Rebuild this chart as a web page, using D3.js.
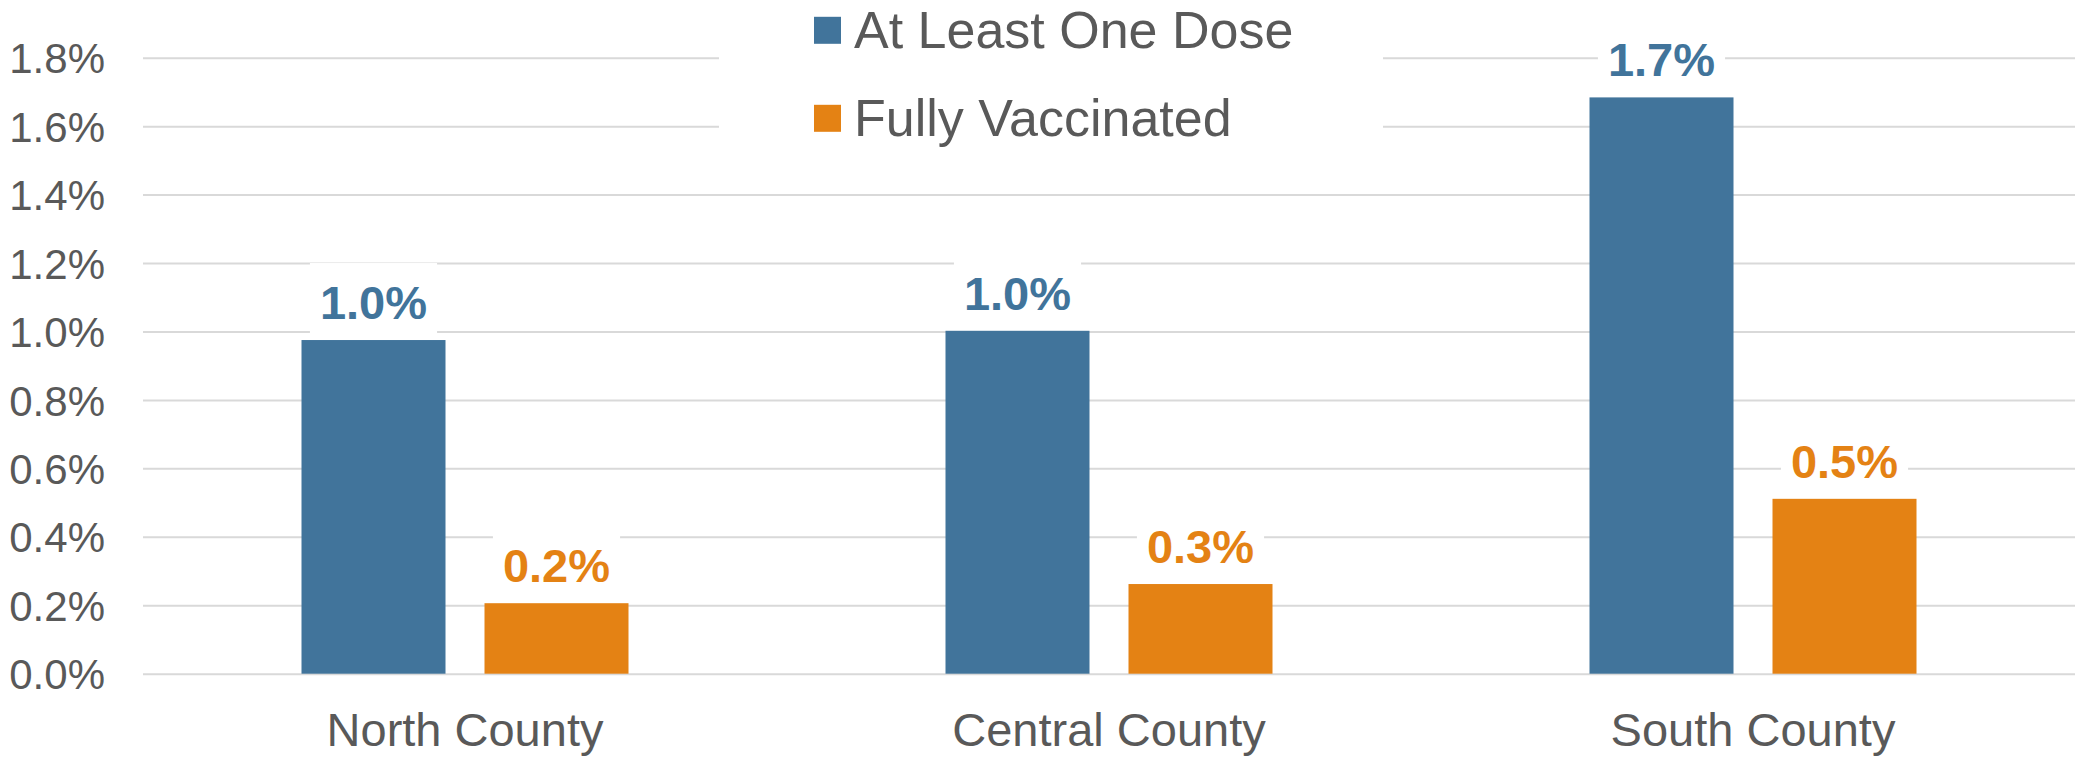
<!DOCTYPE html>
<html>
<head>
<meta charset="utf-8">
<script src="https://cdn.jsdelivr.net/npm/d3@7"></script>
<style>
  html, body { margin: 0; padding: 0; background: #fff; }
  svg { display: block; font-family: "Liberation Sans", Arial, sans-serif; }
</style>
</head>
<body>
<svg id="chart" width="2079" height="759"></svg>
<script>
// ---- data ----
const categories = ["North County", "Central County", "South County"];
const seriesNames = ["At Least One Dose", "Fully Vaccinated"];
const atLeastOneDose = [0.975, 1.002, 1.684];   // percent
const fullyVaccinated = [0.206, 0.262, 0.511];  // percent
const yTicks = [0, 0.2, 0.4, 0.6, 0.8, 1.0, 1.2, 1.4, 1.6, 1.8];
const seriesColors = ["#41749B", "#E48214"];

// ---- layout ----
const W = 2079, H = 759;
const plotLeft = 143, plotRight = 2075, plotTop = 57.7, plotBottom = 673.7;
const textColor = "#595959";
const gridColor = "#D9D9D9";

const svg = d3.select("#chart");

const y = d3.scaleLinear().domain([0, 1.8]).range([plotBottom, plotTop]);
const x0 = d3.scaleBand().domain(categories).range([plotLeft, plotRight]).padding(0);
const x1 = d3.scaleBand().domain(seriesNames)
  .range([158.5, x0.bandwidth() - 158.5]).paddingInner(0.2131).paddingOuter(0);

const seriesValues = [atLeastOneDose, fullyVaccinated];
const rows = [];
categories.forEach((c, i) => {
  seriesNames.forEach((s, j) => {
    rows.push({ cat: c, series: s, value: seriesValues[j][i], color: seriesColors[j] });
  });
});

// gridlines
const grid = svg.append("g")
  .attr("transform", `translate(${plotLeft},0)`)
  .call(d3.axisLeft(y).tickValues(yTicks).tickSize(-(plotRight - plotLeft)).tickFormat(""));
grid.select(".domain").remove();
grid.selectAll("line").attr("stroke", gridColor).attr("stroke-width", 2);

// y axis labels
const yAxis = svg.append("g")
  .attr("transform", `translate(105,0)`)
  .call(d3.axisLeft(y).tickValues(yTicks).tickSize(0).tickPadding(0)
    .tickFormat(d => d3.format(".1f")(d) + "%"));
yAxis.select(".domain").remove();
yAxis.selectAll("text")
  .attr("fill", textColor)
  .style("font-size", "42px")
  .style("font-family", '"Liberation Sans", Arial, sans-serif')
  .attr("dy", "0.36em");

// bars
svg.append("g").selectAll("rect")
  .data(rows).join("rect")
  .attr("x", d => x0(d.cat) + x1(d.series))
  .attr("width", x1.bandwidth())
  .attr("y", d => y(d.value))
  .attr("height", d => y(0) - y(d.value))
  .attr("fill", d => d.color);

// x axis labels
const xAxis = svg.append("g")
  .attr("transform", `translate(0,${plotBottom})`)
  .call(d3.axisBottom(x0).tickSize(0).tickPadding(0));
xAxis.select(".domain").remove();
xAxis.selectAll("text")
  .attr("fill", textColor)
  .attr("y", 72)
  .attr("dy", 0)
  .style("font-size", "47px")
  .style("font-family", '"Liberation Sans", Arial, sans-serif');

// data labels with white background
const labelG = svg.append("g");
rows.forEach(d => {
  const cx = x0(d.cat) + x1(d.series) + x1.bandwidth() / 2;
  const baseline = y(d.value) - 21;
  const g = labelG.append("g");
  const bg = g.append("rect").attr("fill", "#fff");
  const t = g.append("text")
    .attr("x", cx).attr("y", baseline)
    .attr("text-anchor", "middle")
    .attr("fill", d.color)
    .style("font-size", "47px")
    .style("font-weight", "bold")
    .text(d3.format(".1f")(d.value) + "%");
  const w = t.node().getComputedTextLength();
  bg.attr("x", cx - w / 2 - 10).attr("width", w + 20)
    .attr("y", baseline - 56).attr("height", 70);
});

// legend
const legend = svg.append("g");
legend.append("rect").attr("x", 719).attr("y", 0).attr("width", 664).attr("height", 148).attr("fill", "#fff");
seriesNames.forEach((s, i) => {
  const baseY = 47.5 + i * 88;
  legend.append("rect")
    .attr("x", 814).attr("y", baseY - 30.7).attr("width", 27).attr("height", 27)
    .attr("fill", seriesColors[i]);
  legend.append("text")
    .attr("x", 854).attr("y", baseY)
    .attr("fill", textColor)
    .style("font-size", "52px")
    .text(s);
});
</script>
</body>
</html>
